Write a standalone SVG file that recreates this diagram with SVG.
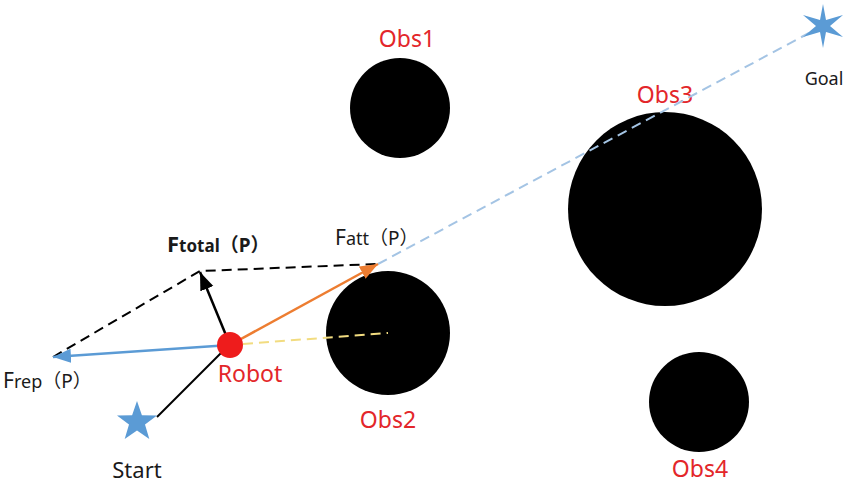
<svg xmlns="http://www.w3.org/2000/svg" width="851" height="486" viewBox="0 0 851 486">
<style>
.obs{fill:#000}
.lbl{font-family:"Noto Sans","Noto Sans CJK SC",sans-serif;fill:#e3262a;font-size:23px;text-anchor:middle}
.blk{font-family:"Noto Sans","Noto Sans CJK SC",sans-serif;fill:#1a1a1a}
.star{fill:#5b9bd5}
.dash{fill:none;stroke-dasharray:10 6}
</style>
<defs>
<marker id="ahBlue" markerUnits="userSpaceOnUse" markerWidth="20" markerHeight="16" refX="18" refY="7" orient="auto"><path d="M0,0 L18,7 L0,14 Z" fill="#5b9bd5"/></marker>
<marker id="ahOrange" markerUnits="userSpaceOnUse" markerWidth="20" markerHeight="16" refX="18" refY="7" orient="auto"><path d="M0,0 L18,7 L0,14 Z" fill="#ed7d31"/></marker>
<marker id="ahBlack" markerUnits="userSpaceOnUse" markerWidth="20" markerHeight="16" refX="18" refY="7" orient="auto"><path d="M0,0 L18,7 L0,14 Z" fill="#000"/></marker>
</defs>

<g id="obs1"><circle class="obs" cx="400" cy="108" r="50"/><text class="lbl" x="407" y="47">Obs1</text></g>
<g id="obs2"><circle class="obs" cx="388" cy="333" r="62"/><text class="lbl" x="388" y="428">Obs2</text></g>
<g id="obs3"><circle class="obs" cx="665" cy="209" r="97"/><text class="lbl" x="665" y="103">Obs3</text></g>
<g id="obs4"><circle class="obs" cx="699" cy="402" r="50"/><text class="lbl" x="700" y="477">Obs4</text></g>

<g id="connectors">
<line x1="157" y1="417" x2="222" y2="352" stroke="#000" stroke-width="2"/>
<polyline class="dash" points="53,357 200,271 378,264" stroke="#000" stroke-width="2"/>
<line class="dash" x1="378" y1="264" x2="809" y2="33" stroke="#a4c4e4" stroke-width="2"/>
<line class="dash" x1="243" y1="344" x2="388" y2="333" stroke="#f2dc80" stroke-width="2"/>
<line x1="230" y1="345" x2="53" y2="357" stroke="#5b9bd5" stroke-width="2.5" marker-end="url(#ahBlue)"/>
<line x1="230" y1="345" x2="378" y2="264" stroke="#ed7d31" stroke-width="2.5" marker-end="url(#ahOrange)"/>
<line x1="230" y1="345" x2="200" y2="272" stroke="#000" stroke-width="2.5" marker-end="url(#ahBlack)"/>
</g>

<g id="robot"><circle cx="230" cy="345" r="13" fill="#ee1c1c"/><text class="lbl" x="250" y="382" font-size="24">Robot</text></g>

<g id="start">
<polygon class="star" points="137,401 141.9,415.3 157,415.5 145,424.6 149.3,439 137,430.4 124.7,439 129,424.6 117,415.5 132.1,415.3"/>
<text class="blk" x="137" y="478" font-size="22" text-anchor="middle">Start</text>
</g>

<g id="goal">
<polygon class="star" points="823,4 826,20 843,15 830,26 843,37 826,32 823,48 820,32 803,37 816,26 803,15 820,20"/>
<text class="blk" x="824" y="85" font-size="18" text-anchor="middle">Goal</text>
</g>

<g id="ftotal"><text class="blk" x="167" y="252" font-weight="bold"><tspan font-size="22">F</tspan><tspan font-size="17">total</tspan><tspan font-size="19">（P）</tspan></text></g>
<g id="fatt"><text class="blk" x="335" y="245"><tspan font-size="21">F</tspan><tspan font-size="18">att</tspan><tspan font-size="19">（P）</tspan></text></g>
<g id="frep"><text class="blk" x="3" y="388"><tspan font-size="21">F</tspan><tspan font-size="18">rep</tspan><tspan font-size="19">（P）</tspan></text></g>
</svg>
